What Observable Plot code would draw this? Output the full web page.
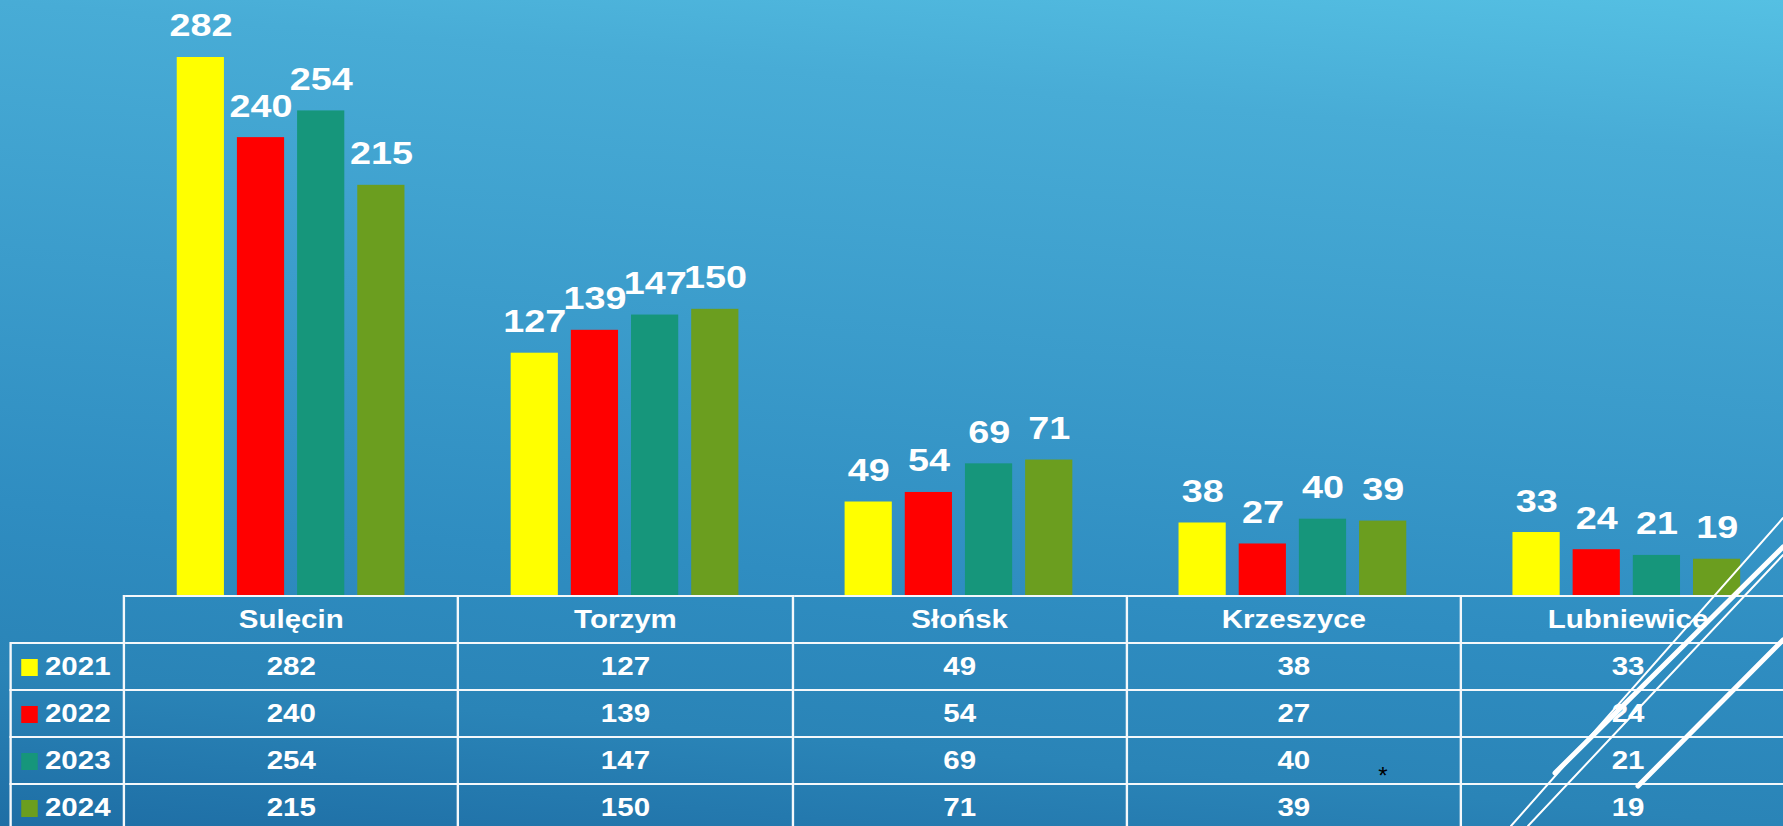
<!DOCTYPE html>
<html>
<head>
<meta charset="utf-8">
<script src="https://cdn.jsdelivr.net/npm/d3@7"></script>
<script src="https://cdn.jsdelivr.net/npm/@observablehq/plot@0.6"></script>
<style>
  html, body { margin: 0; padding: 0; }
  body {
    width: 1783px; height: 826px; overflow: hidden; position: relative;
    background: linear-gradient(185deg, #55c0e3 0%, #48acd6 16%, #2f8dc1 67%, #2a84b7 84%, #1e6ea5 100%);
    font-family: "Liberation Sans", Arial, sans-serif;
  }
  #stretch { position: absolute; left: 0; top: 0; transform-origin: 0 0; }
  #chart svg { display: block; background: transparent; }
  table.data {
    position: absolute; border-collapse: collapse; table-layout: fixed;
    color: #fff; font-weight: bold; font-size: 25px;
  }
  table.data tr { height: 47px; }
  table.data td { border: 2px solid #f4f8fb; padding: 0; text-align: center; vertical-align: middle; white-space: nowrap; }
  table.data td.corner { border-top: none; border-left: none; }
  table.data td.lab { text-align: left; }
  .sw { display: inline-block; width: 13.6px; height: 17px; margin-left: 8px; margin-right: 6px; vertical-align: -1px; }
  #deco { position: absolute; left: 0; top: 0; pointer-events: none; }
</style>
</head>
<body>
<div id="stretch">
  <div id="chart"></div>
</div>
<svg id="deco" width="1783" height="826"></svg>
<script>
const towns = ["Sulęcin", "Torzym", "Słońsk", "Krzeszyce", "Lubniewice"];
const years = ["2021", "2022", "2023", "2024"];
const v2021 = [282, 127, 49, 38, 33];
const v2022 = [240, 139, 54, 27, 24];
const v2023 = [254, 147, 69, 40, 21];
const v2024 = [215, 150, 71, 39, 19];
const colors = ["#ffff00", "#ff0000", "#16967b", "#6b9e1f"];

const series = [v2021, v2022, v2023, v2024];
const rows = [];
towns.forEach((t, i) => years.forEach((y, j) => rows.push({town: t, year: y, value: series[j][i]})));

const k = 1.18;               // horizontal stretch of the slide
const fullW = 1794;           // table runs slightly past the right edge
const W = fullW / k;
const H = 595;

const stretch = document.getElementById("stretch");
stretch.style.width = W + "px";
stretch.style.transform = `scaleX(${k})`;

const plot = Plot.plot({
  width: W,
  height: H,
  marginTop: 57,
  marginBottom: 0,
  marginLeft: 123 / k,
  marginRight: 0,
  style: {background: "transparent", overflow: "visible"},
  fx: {domain: towns, padding: 0, axis: null},
  x: {domain: years, paddingInner: 0.2075, paddingOuter: 0.8625, axis: null},
  y: {domain: [0, d3.max(rows, d => d.value)], axis: null},
  color: {domain: years, range: colors},
  marks: [
    Plot.barY(rows, {fx: "town", x: "year", y: "value", fill: "year"}),
    Plot.text(rows, {
      fx: "town", x: "year", y: "value", text: d => String(d.value),
      dy: -21, lineAnchor: "bottom", fill: "white",
      fontSize: 32, fontWeight: "bold", fontFamily: "Liberation Sans, Arial, sans-serif"
    })
  ]
});
document.getElementById("chart").appendChild(plot);

// data table under the bars
const table = document.createElement("table");
table.className = "data";
table.style.left = (10 / k) + "px";
table.style.top = H + "px";
const colLab = 113 / k, colW = (fullW - 123) / 5 / k;
table.style.width = (colLab + 5 * colW) + "px";
let html = `<colgroup><col style="width:${colLab}px">` + towns.map(() => `<col style="width:${colW}px">`).join("") + `</colgroup>`;
html += `<tr><td class="corner"></td>` + towns.map(t => `<td>${t}</td>`).join("") + `</tr>`;
years.forEach((y, j) => {
  html += `<tr><td class="lab"><span class="sw" style="background:${colors[j]}"></span>${y}</td>` +
    series[j].map(v => `<td>${v}</td>`).join("") + `</tr>`;
});
table.innerHTML = html;
stretch.appendChild(table);

// slide template decoration (diagonal lines) and the stray asterisk
const deco = d3.select("#deco");
const decoLines = [
  {x1: 1783, y1: 518, x2: 1511, y2: 826, w: 2},
  {x1: 1783, y1: 547, x2: 1555, y2: 773, w: 5},
  {x1: 1783, y1: 555, x2: 1528, y2: 826, w: 2},
  {x1: 1783, y1: 640, x2: 1638, y2: 786, w: 5}
];
deco.selectAll("line").data(decoLines).join("line")
  .attr("x1", d => d.x1).attr("y1", d => d.y1).attr("x2", d => d.x2).attr("y2", d => d.y2)
  .attr("stroke", "white").attr("stroke-width", d => d.w).attr("stroke-linecap", "round");
deco.append("text").attr("x", 1383).attr("y", 784).attr("text-anchor", "middle")
  .attr("font-family", "Liberation Sans, Arial, sans-serif").attr("font-size", 24).attr("fill", "black").text("*");
</script>
</body>
</html>
